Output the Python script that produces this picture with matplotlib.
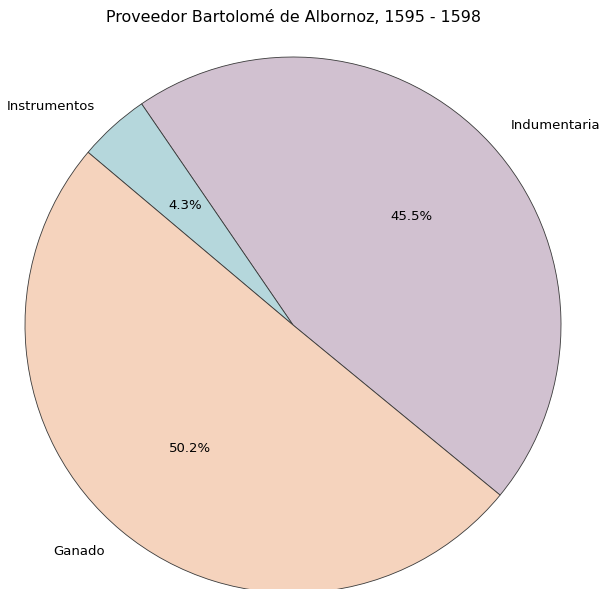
import matplotlib
matplotlib.use("Agg")
import matplotlib.pyplot as plt

labels = ["Indumentaria", "Instrumentos", "Ganado"]
values = [45.5, 4.3, 50.2]
colors = ["#d1c1d0", "#b5d7dc", "#f5d3bd"]

fig = plt.figure(figsize=(6, 5.89), dpi=100)

# axes placed so the pie is centred at (293, 325) px with radius 268 px
lim = 1.02
r_px = 268 * lim
ax = fig.add_axes([(293 - r_px) / 600, (589 - 325 - r_px) / 589,
                   2 * r_px / 600, 2 * r_px / 589])

ax.pie(values, labels=labels, colors=colors, autopct="%1.1f%%",
       startangle=-39.4, counterclock=True,
       wedgeprops={"edgecolor": "#3a3a3a", "linewidth": 0.6},
       textprops={"fontsize": 9.5})
ax.set_xlim(-lim, lim)
ax.set_ylim(-lim, lim)
ax.set_aspect("auto")

fig.text(293 / 600, 1 - 18 / 589, "Proveedor Bartolomé de Albornoz, 1595 - 1598",
         ha="center", va="center", fontsize=11.4)

fig.savefig("out.png", dpi=100)
